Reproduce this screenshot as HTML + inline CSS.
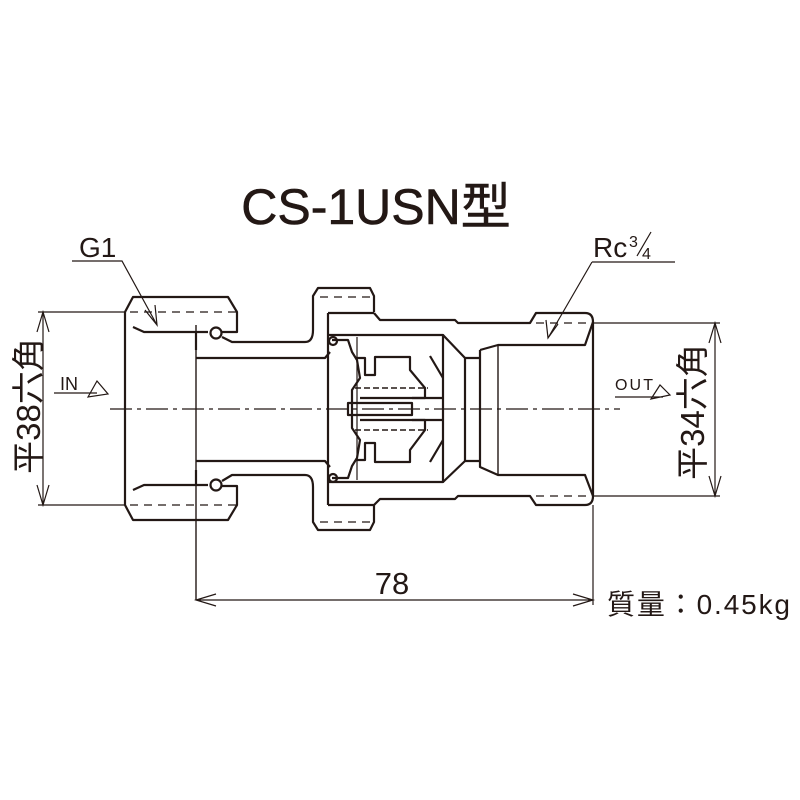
<!DOCTYPE html>
<html><head><meta charset="utf-8"><style>
html,body{margin:0;padding:0;background:#fff}
svg{display:block}
text{font-family:"Liberation Sans","Noto Sans CJK JP",sans-serif;fill:#231815}
</style></head><body>
<svg width="800" height="800" viewBox="0 0 800 800" xmlns="http://www.w3.org/2000/svg">
<g fill="none" stroke="#231815" stroke-width="2.2" stroke-linejoin="round">
<path d="M125,312 L133,297 L228,297 L237,312 L237,332 L222,332"/>
<path d="M125,312 L125,505 L133,520 L228,520 L237,505 L237,486 L222,486"/>
<path d="M133,327 L144,332 L208,332"/>
<path d="M133,490 L144,485 L208,485"/>
<circle cx="216" cy="333" r="5.5"/>
<circle cx="216" cy="485" r="5.5"/>
<path d="M222,337 L232,342 L305,342 Q313,342 313,330 L313,296 L318,288 L370,288 L374,296 L374,312"/>
<path d="M222,481 L232,475 L305,475 Q313,475 313,487 L313,522 L318,530 L370,530 L374,522 L374,505"/>
<path d="M196,325 L196,600" stroke-width="1.4"/>
<path d="M196,358 L325,358 L330,352"/>
<path d="M196,461 L325,461 L330,467"/>
<path d="M196,332 L196,350 M196,470 L196,486"/>
<path d="M328,313 L328,505"/>
<path d="M374,313 L380,320 L455,320 L458,323 L530,323 L536,313 L585,313 Q593,313 593,322 L593,496 Q593,505 585,505 L536,505 L530,496 L458,496 L455,499 L380,499 L374,505 L328,505"/>
<path d="M328,313 L374,313"/>
<path d="M328,335 L443,335 L443,482 L328,482"/>
<path d="M443,335 L465,358 L465,461 L443,482"/>
<path d="M465,358 L480,358 M465,461 L480,461"/>
<path d="M480,350 L498,345 L585,345 L593,322"/>
<path d="M480,350 L480,467 L498,475 L585,475 L593,496"/>
<path d="M498,345 L498,475" stroke-width="1.4"/>
<path d="M332,340 L348,340 L352,352 L357,360 L360,378 L352,390 L352,428 L360,440 L357,458 L352,466 L348,478 L332,478"/>
<path d="M355,358 L365,358 L365,375 L375,375 L375,357 L410,357 L410,370 L425,388 L425,398 L360,398"/>
<path d="M355,460 L365,460 L365,443 L375,443 L375,462 L410,462 L410,450 L425,430 L425,420 L360,420"/>
<path d="M348,403 L412,403 L412,415 L348,415 Z"/>
<path d="M412,398 L443,398 M412,420 L443,420"/>
<path d="M430,356 L443,378 M430,462 L443,440"/>
<path d="M357,337 L357,480" stroke-width="1.2"/>
<path d="M355,388 L428,388 M355,430 L428,430" stroke-dasharray="6,3" stroke-width="1.6"/>
<circle cx="333" cy="341" r="4"/><circle cx="333" cy="478" r="4"/>
</g>
<g stroke="#231815" stroke-width="1.3" stroke-dasharray="8,6" fill="none">
<path d="M130,312 L237,312 M130,505 L237,505"/>
<path d="M320,297 L370,297 M320,522 L370,522"/>
<path d="M536,323 L590,323 M536,496 L590,496"/>
</g>
<path d="M110,409 L620,409" stroke="#231815" stroke-width="1.2" stroke-dasharray="22,5,4,5" fill="none"/>
<g stroke="#231815" stroke-width="1.2" fill="none">
<path d="M38,312 L125,312 M38,505 L125,505 M43,312 L43,505"/>
<path d="M37,332 L43,312 L49,332 M37,485 L43,505 L49,485"/>
<path d="M593,323 L720,323 M593,496 L720,496 M715,323 L715,496"/>
<path d="M709,343 L715,323 L721,343 M709,476 L715,496 L721,476"/>
<path d="M593,505 L593,605"/>
<path d="M196,600 L593,600 M216,594 L196,600 L216,606 M573,594 L593,600 L573,606"/>
<path d="M72,261 L122,261 L157,325 M145,310 L157,325 L155,305"/>
<path d="M592,262 L675,262 M592,262 L548,338 M546,320 L548,338 L558,324"/>
<path d="M54,393 L97,393 M88,397 L97,381 L108,394 Z"/>
<path d="M615,397 L663,397 M651,399 L660,385 L670,395 Z"/>
</g>
<text x="376" y="224" font-size="50" text-anchor="middle" stroke="#231815" stroke-width="0.6">CS-1USN型</text>
<text x="79" y="257" font-size="28">G1</text>
<text x="593" y="257" font-size="28">Rc</text>
<text x="629" y="247" font-size="16">3</text>
<path d="M637,256 L651,232" stroke="#231815" stroke-width="1.2"/>
<text x="642" y="259" font-size="16">4</text>
<text x="60" y="390" font-size="18">IN</text>
<text x="615" y="390" font-size="16" textLength="38">OUT</text>
<text transform="translate(40,406) rotate(-90)" font-size="33" text-anchor="middle">平38六角</text>
<text transform="translate(704,412) rotate(-90)" font-size="33" text-anchor="middle">平34六角</text>
<text x="392" y="594" font-size="31" text-anchor="middle">78</text>
<text x="607" y="614" font-size="28" textLength="183">質量：0.45kg</text>
</svg>
</body></html>
